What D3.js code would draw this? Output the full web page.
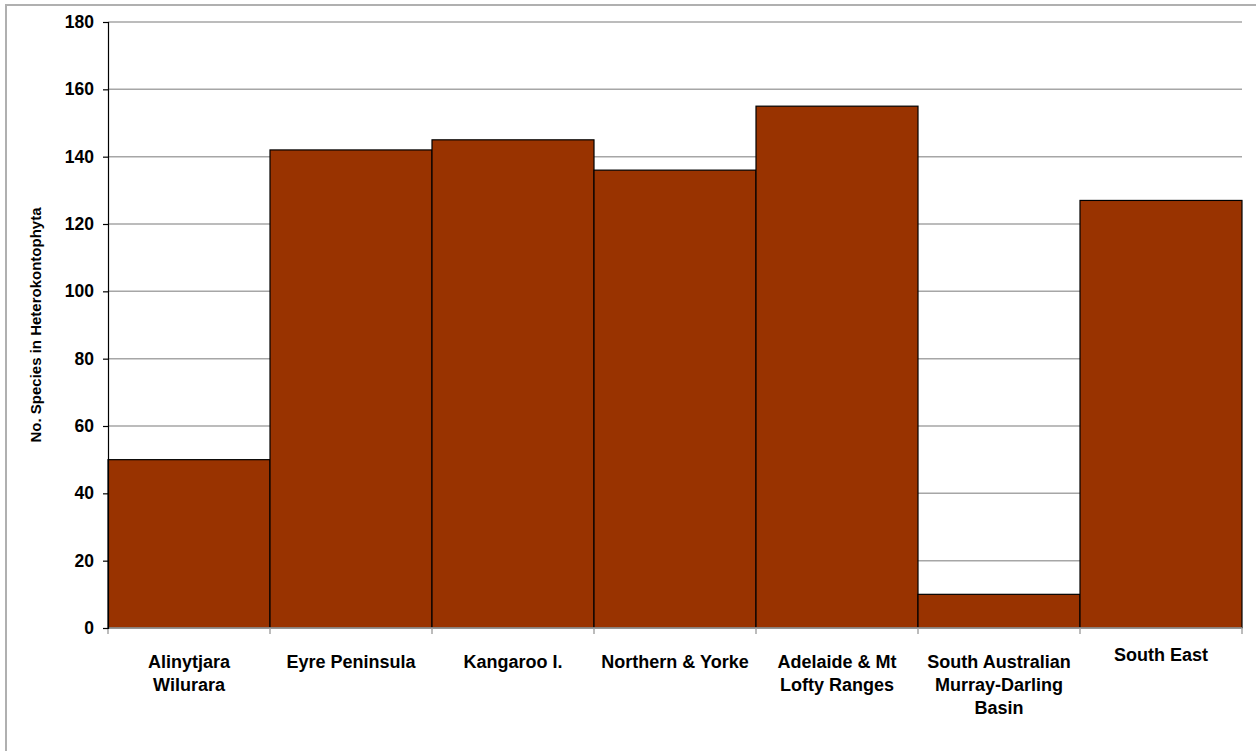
<!DOCTYPE html>
<html>
<head>
<meta charset="utf-8">
<script src="https://cdn.jsdelivr.net/npm/d3@7"></script>
<style>
  body { margin: 0; background: #fff; }
  text { font-family: Arial, "Liberation Sans", sans-serif; font-weight: bold; fill: #000; }
</style>
</head>
<body>
<div id="chart"></div>
<script>
// data
var regions = ["Alinytjara Wilurara", "Eyre Peninsula", "Kangaroo I.", "Northern & Yorke",
               "Adelaide & Mt Lofty Ranges", "South Australian Murray-Darling Basin", "South East"];
var species = [50, 142, 145, 136, 155, 10, 127];
var yTicks = [0, 20, 40, 60, 80, 100, 120, 140, 160, 180];

var svgWidth = 1256;
var svgHeight = 751;
var margin = { top: 22, right: 14, bottom: 123, left: 108 };
var width = svgWidth - margin.left - margin.right;
var height = svgHeight - margin.top - margin.bottom;

var svg = d3.select("#chart").append("svg")
  .attr("width", svgWidth)
  .attr("height", svgHeight);

// outer frame (runs off the right and bottom edge)
svg.append("rect")
  .attr("x", 6).attr("y", 5)
  .attr("width", svgWidth).attr("height", svgHeight)
  .attr("fill", "none")
  .attr("stroke", "#b0b0b0")
  .attr("stroke-width", 2);

var chartGroup = svg.append("g")
  .attr("transform", `translate(${margin.left}, ${margin.top})`);

var xScale = d3.scaleBand().domain(regions).range([0, width]).padding(0);
var yScale = d3.scaleLinear().domain([0, 180]).range([height, 0]);

// gridlines
chartGroup.selectAll(".grid")
  .data(yTicks.filter(d => d > 0))
  .enter().append("line")
  .attr("x1", 0).attr("x2", width)
  .attr("y1", d => yScale(d)).attr("y2", d => yScale(d))
  .attr("stroke", "#a6a6a6")
  .attr("stroke-width", 1.5);

// bars
chartGroup.selectAll("rect.bar")
  .data(regions)
  .enter().append("rect")
  .attr("class", "bar")
  .attr("x", d => xScale(d))
  .attr("y", (d, i) => yScale(species[i]))
  .attr("width", xScale.bandwidth())
  .attr("height", (d, i) => height - yScale(species[i]))
  .attr("fill", "#993300")
  .attr("stroke", "#000")
  .attr("stroke-width", 1.2);

// x axis: grey line with ticks at category boundaries
var xAxisG = chartGroup.append("g").attr("transform", `translate(0, ${height})`);
xAxisG.append("line")
  .attr("x1", 0).attr("x2", width)
  .attr("stroke", "#a6a6a6").attr("stroke-width", 1.5);
var edges = regions.map(d => xScale(d)).concat([width]);
xAxisG.selectAll(".xtick")
  .data(edges)
  .enter().append("line")
  .attr("x1", d => d).attr("x2", d => d)
  .attr("y1", 0).attr("y2", 6)
  .attr("stroke", "#a6a6a6").attr("stroke-width", 1.5);

// category labels, wrapped
var labelSize = 18;
var maxLabel = 154;
var labels = xAxisG.selectAll(".xlabel")
  .data(regions)
  .enter().append("text")
  .attr("class", "xlabel")
  .attr("text-anchor", "middle")
  .attr("font-size", labelSize)
  .attr("x", d => xScale(d) + xScale.bandwidth() / 2)
  .attr("y", (d, i) => i === regions.length - 1 ? 33 : 40);

labels.each(function(d) {
  var el = d3.select(this);
  var words = d.split(" ");
  var lines = [];
  var line = [];
  var probe = el.append("tspan");
  words.forEach(function(w) {
    line.push(w);
    probe.text(line.join(" "));
    if (probe.node().getComputedTextLength() > maxLabel && line.length > 1) {
      line.pop();
      lines.push(line.join(" "));
      line = [w];
    }
  });
  lines.push(line.join(" "));
  probe.remove();
  lines.forEach(function(t, k) {
    el.append("tspan")
      .attr("x", el.attr("x"))
      .attr("dy", k === 0 ? 0 : 23)
      .text(t);
  });
});

// y axis
var leftAxis = d3.axisLeft(yScale).tickValues(yTicks).tickSize(5).tickPadding(9);
var yAxisG = chartGroup.append("g").call(leftAxis);
yAxisG.select(".domain").attr("stroke", "#000").attr("stroke-width", 1.2);
yAxisG.selectAll(".tick line").attr("stroke", "#000").attr("stroke-width", 1.2);
yAxisG.selectAll(".tick text")
  .attr("font-size", 17.5)
  .attr("font-family", "Arial, 'Liberation Sans', sans-serif")
  .attr("font-weight", "bold");

// y axis title
chartGroup.append("text")
  .attr("transform", "rotate(-90)")
  .attr("x", -height / 2)
  .attr("y", -margin.left + 41)
  .attr("text-anchor", "middle")
  .attr("font-size", 15)
  .text("No. Species in Heterokontophyta");
</script>
</body>
</html>
